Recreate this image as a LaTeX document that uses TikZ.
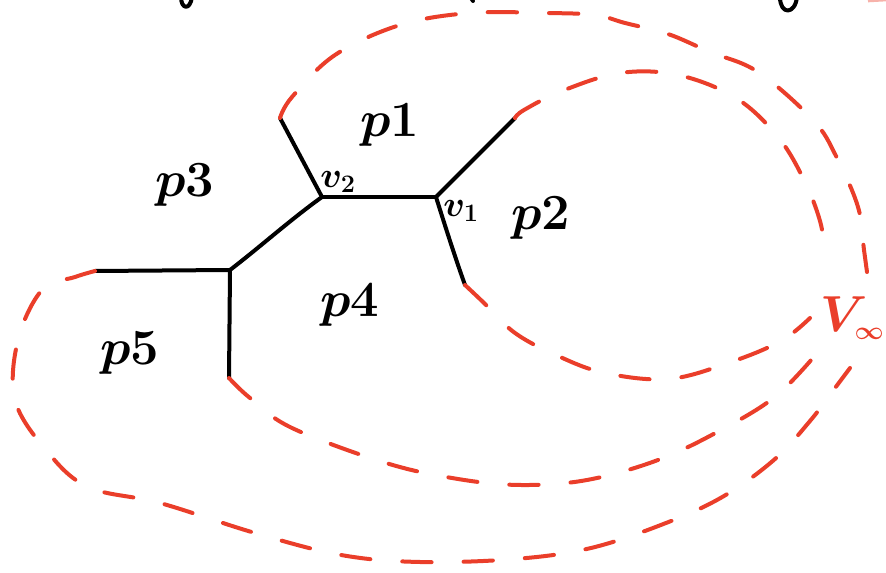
\RequirePackage{fix-cm}
\documentclass[tikz,border=0pt]{standalone}
\usepackage{tikz}
\definecolor{sketchred}{RGB}{234,62,42}
\begin{document}
\begin{tikzpicture}[x=0.75pt,y=-0.75pt,
  edge/.style={line width=3pt,line cap=round,line join=round,black},
  ray/.style={line width=3pt,line cap=round,sketchred,dash pattern=on 22pt off 24pt},
  region/.style={font=\fontsize{38}{40}\selectfont\boldmath,inner sep=0pt},
  vlabel/.style={font=\fontsize{27}{29}\selectfont\boldmath,inner sep=0pt}]
\useasboundingbox (0,0) rectangle (886,573);
% vertices and leg ends
\coordinate (v1) at (436,197);
\coordinate (v2) at (322,197);
\coordinate (v3) at (230,270);
\coordinate (a) at (280,118);
\coordinate (b) at (515,118);
\coordinate (c) at (465,285);
\coordinate (d) at (95,271);
\coordinate (e) at (229,378);
% black graph
\draw[edge] (v2) -- (v1);
\draw[edge] (a) -- (v2);
\draw[edge] (v1) -- (b);
\draw[edge] (v1) .. controls (447,232) and (456,260) .. (c);
\draw[edge] (v2) .. controls (290,220) and (260,247) .. (v3);
\draw[edge] (d) -- (v3);
\draw[edge] (v3) -- (e);
% labels
\node[region] (p1) at (390,125) {$p1$};
\node[region] (p2) at (541,218) {$p2$};
\node[region] (p3) at (185,185) {$p3$};
\node[region] (p4) at (350,305) {$p4$};
\node[region] (p5) at (130,353) {$p5$};
\node[vlabel] (lv2) at (338,182) {$v_2$};
\node[vlabel] (lv1) at (461,211) {$v_1$};
\node[font=\fontsize{38}{40}\selectfont\boldmath,inner sep=0pt,anchor=west,text=sketchred] (vinf) at (820,318) {$V_{\scriptscriptstyle\infty}$};
% ray ends near V-infinity
\coordinate (r1) at (826,257);
\coordinate (r2) at (810,318);
\coordinate (r3) at (867,272);
\coordinate (r4) at (818,352);
\coordinate (r5) at (850,368);
% dashed rays to V-infinity
\draw[ray] plot[smooth,tension=0.6] coordinates {(b) (524,110) (562,91) (620,73) (678,75) (736,98) (778,137) (804,180) (820,221) (r1)};
\draw[ray] plot[smooth,tension=0.6] coordinates {(c) (483,302) (515,333) (558,356) (605,373) (669,379) (731,362) (781,341) (r2)};
\draw[ray] plot[smooth,tension=0.6] coordinates {(a) (292,97) (335,55) (400,25) (470,13) (545,13) (595,15) (625,23) (668,34) (710,52) (758,72) (813,120) (836,156) (858,207) (864,250) (r3)};
\draw[ray] plot[smooth,tension=0.6] coordinates {(e) (250,398) (292,428) (386,463) (458,479) (521,485) (587,480) (658,460) (721,430) (776,396) (r4)};
\draw[ray] plot[smooth,tension=0.6] coordinates {(d) (75,277) (42,290) (18,340) (15,400) (46,450) (88,487) (160,503) (255,533) (341,555) (420,562) (515,559) (591,548) (666,523) (724,496) (775,459) (810,421) (832,392) (r5)};
% cut-off strokes at the top edge
\draw[edge] (181,-3) .. controls (181,9) and (190,11) .. (192,-3);
\draw[edge] (471,-2) -- (473,1);
\draw[edge] (780,-3) .. controls (780,15) and (795,15) .. (797,-3);
\draw[line width=2pt,sketchred!40] (868,1) -- (886,0);
\end{tikzpicture}
\end{document}
